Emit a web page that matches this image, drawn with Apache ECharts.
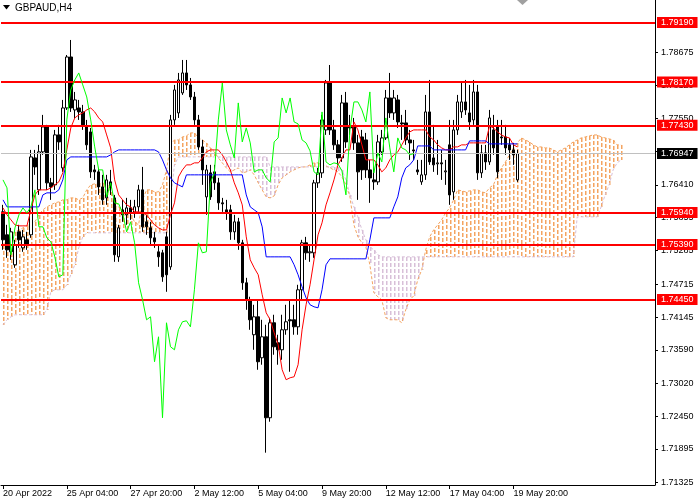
<!DOCTYPE html>
<html>
<head>
<meta charset="utf-8">
<script src="https://cdn.jsdelivr.net/npm/echarts@6/dist/echarts.min.js"></script>
<style>
  html, body { margin: 0; padding: 0; background: #fff; }
  #chart { width: 700px; height: 500px; }
</style>
</head>
<body>
<div id="chart"></div>
<script>
// GBPAUD H4 with Ichimoku
const xTickLabels = ['20 Apr 2022', '25 Apr 04:00', '27 Apr 20:00', '2 May 12:00', '5 May 04:00',
  '9 May 20:00', '12 May 12:00', '17 May 04:00', '19 May 20:00'];
const yTicks = [1.71325, 1.71895, 1.72450, 1.73020, 1.73590, 1.74145, 1.74715, 1.75285,
  1.75855, 1.76410, 1.76980, 1.77550, 1.78120, 1.78675];
const levels = [1.79190, 1.78170, 1.77430, 1.75940, 1.75390, 1.74450];
const bidPrice = 1.76947;

const opens = [
  1.75950, 1.75557, 1.75266, 1.75044, 1.75608, 1.75334, 1.75471, 1.75557, 1.76873, 1.76326,
  1.76976, 1.77403, 1.76446, 1.76412, 1.77267, 1.76702, 1.77728, 1.78600, 1.77694, 1.77728,
  1.77660, 1.77403, 1.77318, 1.76668, 1.76634, 1.76377, 1.76189, 1.76463, 1.76189, 1.75180,
  1.75984, 1.75899, 1.76018, 1.75933, 1.76036, 1.76326, 1.75779, 1.75677, 1.75505, 1.75266,
  1.75249, 1.75522, 1.75009, 1.77523, 1.77643, 1.77985, 1.78327, 1.78122, 1.77916, 1.77523,
  1.77061, 1.76206, 1.76617, 1.76634, 1.76446, 1.76104, 1.75984, 1.75984, 1.75608, 1.75779,
  1.75420, 1.74736, 1.74445, 1.73847, 1.74154, 1.73453, 1.73812, 1.72427, 1.74052, 1.73710,
  1.73590, 1.73932, 1.74103, 1.74103, 1.73983, 1.74616, 1.75420, 1.75249, 1.75249, 1.76446,
  1.76617, 1.77352, 1.78156, 1.77352, 1.77096, 1.76873, 1.77814, 1.77403, 1.77403, 1.77130,
  1.77232, 1.77181, 1.76668, 1.76497, 1.76463, 1.76976, 1.77215, 1.77899, 1.77643, 1.77865,
  1.77472, 1.77472, 1.77181, 1.77010, 1.76668, 1.76463, 1.76583, 1.77660, 1.76873, 1.76771,
  1.76788, 1.76634, 1.77096, 1.76292, 1.77352, 1.77660, 1.77831, 1.77643, 1.77523, 1.78002,
  1.76617, 1.76959, 1.76805, 1.77352, 1.77403, 1.77232, 1.77232, 1.77096, 1.77010, 1.76497
];
const closes = [
  1.75471, 1.75300, 1.75608, 1.75386, 1.75471, 1.75522, 1.75386, 1.76890, 1.76719, 1.76976,
  1.77403, 1.76446, 1.76377, 1.77267, 1.77147, 1.77728, 1.78600, 1.77728, 1.77865, 1.77660,
  1.77438, 1.77096, 1.76634, 1.76634, 1.76377, 1.76155, 1.76497, 1.76360, 1.75215, 1.75677,
  1.75899, 1.76018, 1.75933, 1.76036, 1.76326, 1.75694, 1.75694, 1.75505, 1.75437, 1.75180,
  1.74838, 1.74873, 1.77523, 1.78036, 1.78207, 1.78327, 1.78122, 1.77916, 1.77523, 1.77061,
  1.76668, 1.76668, 1.76206, 1.76446, 1.76104, 1.76087, 1.75933, 1.75608, 1.75779, 1.75420,
  1.74736, 1.74445, 1.74103, 1.74154, 1.73385, 1.73812, 1.72427, 1.74052, 1.73641, 1.73590,
  1.73932, 1.74069, 1.74086, 1.73983, 1.74616, 1.75420, 1.75249, 1.75266, 1.76446, 1.76617,
  1.77523, 1.78156, 1.77352, 1.77096, 1.76873, 1.77814, 1.77147, 1.77386, 1.77130, 1.76634,
  1.76668, 1.76668, 1.76531, 1.76463, 1.77147, 1.77215, 1.77899, 1.77643, 1.77899, 1.77489,
  1.77455, 1.77181, 1.77130, 1.76993, 1.76634, 1.76583, 1.77660, 1.76805, 1.76754, 1.76788,
  1.76771, 1.76651, 1.76240, 1.77352, 1.77831, 1.77831, 1.77694, 1.77489, 1.78002, 1.76617,
  1.76959, 1.76805, 1.77557, 1.77044, 1.76634, 1.77215, 1.77044, 1.77010, 1.76925, 1.76947
];
const highs = [
  1.76070, 1.75728, 1.75677, 1.75471, 1.75728, 1.75642, 1.75608, 1.77010, 1.77010, 1.77096,
  1.77609, 1.77438, 1.76531, 1.77352, 1.77438, 1.77865, 1.78634, 1.78891, 1.78002, 1.77865,
  1.77780, 1.77523, 1.77386, 1.76754, 1.76702, 1.76583, 1.76583, 1.76668, 1.76240, 1.75728,
  1.76155, 1.76189, 1.76155, 1.76155, 1.76412, 1.76719, 1.75899, 1.75779, 1.75608, 1.75386,
  1.75300, 1.75608, 1.77609, 1.78122, 1.78327, 1.78549, 1.78549, 1.78241, 1.78002, 1.77609,
  1.77181, 1.76754, 1.76754, 1.76754, 1.76531, 1.76189, 1.76155, 1.76070, 1.75899, 1.75847,
  1.75471, 1.74821, 1.74497, 1.74360, 1.74445, 1.74103, 1.74018, 1.74137, 1.74189, 1.73847,
  1.74189, 1.74360, 1.74445, 1.74360, 1.74702, 1.75471, 1.75522, 1.75386, 1.76497, 1.76702,
  1.77609, 1.78207, 1.78463, 1.77523, 1.77181, 1.77951, 1.78002, 1.77609, 1.77557, 1.77267,
  1.77352, 1.77301, 1.76839, 1.76754, 1.77267, 1.77352, 1.78036, 1.78327, 1.78036, 1.77951,
  1.77609, 1.77694, 1.77352, 1.77181, 1.76839, 1.76839, 1.77951, 1.78207, 1.77438, 1.77181,
  1.77010, 1.76839, 1.77523, 1.77523, 1.77951, 1.78173, 1.78207, 1.78122, 1.78207, 1.78122,
  1.77096, 1.77096, 1.77694, 1.77609, 1.77523, 1.77523, 1.77438, 1.77215, 1.77130, 1.77010
];
const lows = [
  1.75300, 1.75163, 1.75129, 1.74992, 1.75334, 1.75266, 1.75300, 1.75505, 1.76583, 1.76240,
  1.76925, 1.76326, 1.76155, 1.76326, 1.77010, 1.76634, 1.77694, 1.77660, 1.77557, 1.77523,
  1.77352, 1.77010, 1.76531, 1.76497, 1.76240, 1.76070, 1.76070, 1.76240, 1.75095, 1.75095,
  1.75779, 1.75728, 1.75813, 1.75847, 1.75950, 1.75608, 1.75557, 1.75386, 1.75334, 1.75009,
  1.74753, 1.74582, 1.74958, 1.77438, 1.77557, 1.77951, 1.78036, 1.77865, 1.77438, 1.77010,
  1.76412, 1.75899, 1.76155, 1.76326, 1.75984, 1.75950, 1.75813, 1.75471, 1.75471, 1.75300,
  1.74616, 1.74274, 1.73932, 1.73590, 1.73248, 1.73334, 1.71829, 1.72359, 1.73505, 1.73334,
  1.73419, 1.73847, 1.73214, 1.73847, 1.73847, 1.74445, 1.75129, 1.75095, 1.75163, 1.76360,
  1.76531, 1.77267, 1.77267, 1.77010, 1.76754, 1.76805, 1.77044, 1.77267, 1.77010, 1.76155,
  1.76497, 1.76531, 1.76104, 1.76326, 1.76412, 1.76925, 1.77181, 1.77557, 1.77523, 1.77386,
  1.77181, 1.77096, 1.76839, 1.76839, 1.76583, 1.76412, 1.76497, 1.76754, 1.76634, 1.76583,
  1.76497, 1.76412, 1.76070, 1.76155, 1.77267, 1.77557, 1.77609, 1.77352, 1.77438, 1.76497,
  1.76531, 1.76668, 1.76754, 1.76925, 1.76531, 1.77096, 1.76925, 1.76839, 1.76754, 1.76463
];

const tenkan = [
  1.76018, 1.75899, 1.75813, 1.75727, 1.75710, 1.75710, 1.75710, 1.75984, 1.76240, 1.76326,
  1.76326, 1.76326, 1.76360, 1.76412, 1.76463, 1.76617, 1.77010, 1.77386, 1.77557, 1.77609,
  1.77643, 1.77694, 1.77728, 1.77660, 1.77557, 1.77489, 1.77266, 1.77044, 1.76497, 1.76240,
  1.76155, 1.76069, 1.76035, 1.75950, 1.75950, 1.75933, 1.75899, 1.75813, 1.75727, 1.75676,
  1.75642, 1.75642, 1.75899, 1.76104, 1.76548, 1.76668, 1.76754, 1.76754, 1.76788, 1.76788,
  1.76873, 1.76976, 1.77010, 1.77010, 1.77010, 1.76925, 1.76805, 1.76668, 1.76446, 1.76275,
  1.76069, 1.75522, 1.75129, 1.74992, 1.74873, 1.74531, 1.74223, 1.74103, 1.73881, 1.73676,
  1.73248, 1.73077, 1.73111, 1.73128, 1.73334, 1.73932, 1.74360, 1.74702, 1.75129, 1.75556,
  1.75762, 1.76069, 1.76275, 1.76497, 1.76754, 1.76873, 1.77010, 1.77010, 1.77489, 1.77352,
  1.77096, 1.76839, 1.76839, 1.76839, 1.76754, 1.76634, 1.76702, 1.76839, 1.76925, 1.76976,
  1.77096, 1.77215, 1.77318, 1.77352, 1.77352, 1.77352, 1.77352, 1.77232, 1.77181, 1.77096,
  1.77044, 1.77010, 1.77010, 1.77061, 1.77061, 1.77096, 1.77096, 1.77130, 1.77130, 1.77130,
  1.77130, 1.77130, 1.77420, 1.77386, 1.77318, 1.77266, 1.77232, 1.77215, 1.77096, 1.77061
];
const kijun = [
  1.76155, 1.76035, 1.76035, 1.76035, 1.76035, 1.76035, 1.76035, 1.76035, 1.76035, 1.76035,
  1.76240, 1.76275, 1.76275, 1.76275, 1.76326, 1.76497, 1.76839, 1.76890, 1.76890, 1.76890,
  1.76890, 1.76890, 1.76890, 1.76890, 1.76890, 1.76890, 1.76890, 1.76925, 1.76976, 1.77010,
  1.77010, 1.77010, 1.77010, 1.77010, 1.77010, 1.77010, 1.77010, 1.77010, 1.77010, 1.76976,
  1.76839, 1.76668, 1.76531, 1.76446, 1.76412, 1.76377, 1.76583, 1.76583, 1.76583, 1.76583,
  1.76583, 1.76583, 1.76583, 1.76583, 1.76583, 1.76583, 1.76583, 1.76583, 1.76583, 1.76583,
  1.76583, 1.76240, 1.76035, 1.75984, 1.75933, 1.75693, 1.75180, 1.75180, 1.75180, 1.75180,
  1.75180, 1.75180, 1.75180, 1.75044, 1.74873, 1.74667, 1.74479, 1.74360, 1.74325, 1.74308,
  1.74616, 1.75044, 1.75146, 1.75146, 1.75146, 1.75146, 1.75146, 1.75146, 1.75146, 1.75146,
  1.75146, 1.75146, 1.75471, 1.75847, 1.75847, 1.75847, 1.75847, 1.75847, 1.76035, 1.76206,
  1.76531, 1.76702, 1.76754, 1.76839, 1.77078, 1.77078, 1.77078, 1.77078, 1.77010, 1.77010,
  1.77010, 1.77010, 1.77010, 1.77010, 1.77010, 1.77010, 1.77010, 1.77164, 1.77164, 1.77164,
  1.77164, 1.77164, 1.77113, 1.77113, 1.77113, 1.77113, 1.77113, 1.77113, 1.77113, 1.77113
];
const senkouA = [
  1.75386, 1.75471, 1.75556, 1.75608, 1.75642, 1.75676, 1.75710, 1.75745, 1.75779, 1.75899,
  1.75984, 1.76035, 1.76069, 1.76104, 1.76121, 1.76155, 1.76155, 1.76189, 1.76189, 1.76155,
  1.76189, 1.76326, 1.76412, 1.76429, 1.76446, 1.76446, 1.76412, 1.76292, 1.76155, 1.76035,
  1.75950, 1.75916, 1.75899, 1.75779, 1.75727, 1.76155, 1.76326, 1.76326, 1.76292, 1.76292,
  1.76412, 1.76668, 1.77096, 1.77181, 1.77181, 1.77232, 1.77249, 1.77301, 1.77301, 1.77215,
  1.77181, 1.77130, 1.77044, 1.76976, 1.76873, 1.76788, 1.76702, 1.76634, 1.76668, 1.76702,
  1.76617, 1.76634, 1.76668, 1.76583, 1.76446, 1.76326, 1.76206, 1.76189, 1.76223, 1.76412,
  1.76531, 1.76583, 1.76634, 1.76668, 1.76702, 1.76719, 1.76719, 1.76754, 1.76788, 1.76788,
  1.76754, 1.76736, 1.76702, 1.76668, 1.76634, 1.76548, 1.76412, 1.76206, 1.75727, 1.75522,
  1.75420, 1.75351, 1.75044, 1.74565, 1.74496, 1.74445, 1.74137, 1.74103, 1.74103, 1.74103,
  1.74052, 1.74274, 1.74445, 1.74513, 1.74787, 1.74958, 1.75300, 1.75522, 1.75642, 1.75727,
  1.75813, 1.75933, 1.76018, 1.76155, 1.76326, 1.76309, 1.76292, 1.76309, 1.76326, 1.76326,
  1.76292, 1.76275, 1.76360, 1.76412, 1.76583, 1.76702, 1.76805, 1.76925, 1.77044, 1.77130,
  1.77215, 1.77181, 1.77147, 1.77096, 1.77061, 1.77061, 1.77044, 1.77044, 1.77010, 1.76976,
  1.77010, 1.77044, 1.77096, 1.77147, 1.77181, 1.77215, 1.77232, 1.77249, 1.77266, 1.77266,
  1.77232, 1.77215, 1.77198, 1.77181, 1.77096, 1.77096
];
const senkouB = [
  1.74018, 1.74103, 1.74154, 1.74189, 1.74189, 1.74189, 1.74189, 1.74189, 1.74189, 1.74189,
  1.74189, 1.74274, 1.74582, 1.74616, 1.74616, 1.74616, 1.74702, 1.74873, 1.75044, 1.75334,
  1.75522, 1.75591, 1.75591, 1.75591, 1.75591, 1.75591, 1.75591, 1.75591, 1.75591, 1.75591,
  1.75591, 1.75591, 1.75591, 1.75591, 1.75591, 1.75591, 1.75591, 1.75591, 1.75591, 1.75591,
  1.75591, 1.75591, 1.76155, 1.76754, 1.76890, 1.76890, 1.76890, 1.76890, 1.76890, 1.76890,
  1.76890, 1.76890, 1.76890, 1.76890, 1.76890, 1.76890, 1.76890, 1.76890, 1.76890, 1.76890,
  1.76890, 1.76890, 1.76890, 1.76890, 1.76890, 1.76890, 1.76890, 1.76719, 1.76719, 1.76719,
  1.76719, 1.76719, 1.76719, 1.76719, 1.76719, 1.76719, 1.76719, 1.76719, 1.76719, 1.76719,
  1.76719, 1.76719, 1.76719, 1.76719, 1.76719, 1.76668, 1.76497, 1.76240, 1.76035, 1.75864,
  1.75642, 1.75471, 1.75351, 1.75300, 1.75215, 1.75180, 1.75180, 1.75180, 1.75180, 1.75180,
  1.75180, 1.75180, 1.75180, 1.75180, 1.75180, 1.75180, 1.75180, 1.75180, 1.75180, 1.75180,
  1.75180, 1.75180, 1.75180, 1.75180, 1.75180, 1.75180, 1.75180, 1.75180, 1.75180, 1.75180,
  1.75180, 1.75180, 1.75180, 1.75180, 1.75180, 1.75180, 1.75180, 1.75180, 1.75180, 1.75180,
  1.75180, 1.75180, 1.75180, 1.75180, 1.75180, 1.75180, 1.75180, 1.75180, 1.75180, 1.75180,
  1.75180, 1.75180, 1.75180, 1.75180, 1.75864, 1.75864, 1.75864, 1.75864, 1.75864, 1.75864,
  1.76035, 1.76240, 1.76412, 1.76668, 1.76788, 1.76839
];

const barCount = 164;     // visible slots, 4 px each
const chikouShift = 26;
const FONT = 'Tahoma, "Liberation Sans", Arial, sans-serif';
const SANDY = '#F4A460';
const THISTLE = '#D8BFD8';

const $chartEl = document.getElementById('chart');
const chart = echarts.init($chartEl, null, { renderer: 'canvas' });

const categories = Array.from({ length: barCount }, (_, i) => i);
const candles = opens.map((o, i) => [o, closes[i], lows[i], highs[i]]);
// chikou span = close plotted 26 bars back
const chikou = closes.map((_, i) => (i + chikouShift < closes.length ? closes[i + chikouShift] : null));
const cloud = senkouA.map((a, i) => [i, a, senkouB[i]]);
const showTick = idx => idx % 16 === 0 && idx <= 128;

const levelLine = (value, color, width, bg) => ({
  yAxis: value,
  lineStyle: { color, width, type: 'solid' },
  label: {
    show: true,
    position: 'end',
    distance: 2,
    formatter: value.toFixed(5),
    color: '#fff',
    backgroundColor: bg,
    padding: [1, 4, 0, 4],
    lineHeight: 10,
    fontSize: 9,
    fontFamily: FONT
  }
});

chart.setOption({
  animation: false,
  backgroundColor: '#fff',
  grid: { left: 0, right: 45, top: 0, bottom: 15 },
  xAxis: {
    type: 'category',
    data: categories,
    boundaryGap: true,
    axisLine: { show: true, lineStyle: { color: '#000', width: 1 } },
    axisTick: { show: true, interval: showTick, alignWithLabel: true, length: 4, lineStyle: { color: '#000' } },
    axisLabel: {
      interval: showTick,
      formatter: (v, idx) => xTickLabels[idx / 16] || '',
      align: 'left',
      margin: 4,
      color: '#000',
      fontSize: 9,
      fontFamily: FONT
    },
    splitLine: { show: false }
  },
  yAxis: {
    type: 'value',
    position: 'right',
    min: 1.71276,
    max: 1.79575,
    axisLine: { show: true, lineStyle: { color: '#000', width: 1 } },
    axisTick: { show: true, customValues: yTicks, length: 3, lineStyle: { color: '#000' } },
    axisLabel: {
      customValues: yTicks,
      formatter: v => v.toFixed(5),
      margin: 6,
      color: '#000',
      fontSize: 9,
      fontFamily: FONT
    },
    splitLine: { show: false }
  },
  graphic: [
    { type: 'polygon', shape: { points: [[3, 5], [10, 5], [6.5, 9.5]] }, style: { fill: '#000' } },
    { type: 'text', left: 15, top: 3, style: { text: 'GBPAUD,H4', fill: '#000', font: '10px ' + FONT } },
    { type: 'polygon', shape: { points: [[517, 0], [528, 0], [522.5, 5]] }, style: { fill: '#A0A0A0' } }
  ],
  series: [
    {
      name: 'Cloud',
      type: 'custom',
      z: 1,
      silent: true,
      data: cloud,
      encode: { x: 0, y: [1, 2] },
      // dotted vertical hatch per bar, drawn as short rects
      renderItem: (params, api) => {
        const i = params.dataIndex;
        const a = senkouA[i];
        const b = senkouB[i];
        const pa = api.coord([i, a]);
        const pb = api.coord([i, b]);
        const x = Math.round(pa[0]);
        const y0 = Math.round(Math.min(pa[1], pb[1]));
        const y1 = Math.round(Math.max(pa[1], pb[1]));
        const color = a >= b ? SANDY : THISTLE;
        const children = [];
        for (let y = y0; y < y1; y += 6) {
          children.push({
            type: 'rect',
            shape: { x, y, width: 1.5, height: Math.min(4, y1 - y) },
            style: { fill: color, opacity: 1 }
          });
        }
        return { type: 'group', children };
      }
    },
    {
      name: 'Senkou A',
      type: 'line',
      z: 1,
      data: senkouA,
      showSymbol: false,
      symbol: 'none',
      lineStyle: { color: SANDY, width: 1, type: [3, 2] }
    },
    {
      name: 'Senkou B',
      type: 'line',
      z: 1,
      data: senkouB,
      showSymbol: false,
      symbol: 'none',
      lineStyle: { color: THISTLE, width: 1, type: [3, 2] }
    },
    {
      name: 'GBPAUD',
      type: 'candlestick',
      z: 3,
      data: candles,
      barWidth: 3,
      itemStyle: {
        color: '#fff',
        color0: '#000',
        borderColor: '#000',
        borderColor0: '#000',
        borderWidth: 1
      }
    },
    {
      name: 'Tenkan',
      type: 'line',
      z: 4,
      data: tenkan,
      showSymbol: false,
      symbol: 'none',
      lineStyle: { color: '#FF0000', width: 1 }
    },
    {
      name: 'Kijun',
      type: 'line',
      z: 4,
      data: kijun,
      showSymbol: false,
      symbol: 'none',
      lineStyle: { color: '#0000FF', width: 1 }
    },
    {
      name: 'Chikou',
      type: 'line',
      z: 6,
      data: chikou,
      showSymbol: false,
      symbol: 'none',
      lineStyle: { color: '#00FF00', width: 1 },
      markLine: {
        silent: true,
        symbol: 'none',
        precision: 5,
        animation: false,
        data: [
          levelLine(bidPrice, '#C0C0C0', 1, '#000'),
          ...levels.map(v => levelLine(v, '#FF0000', 2, '#FF0000'))
        ]
      }
    }
  ]
});
</script>
</body>
</html>
